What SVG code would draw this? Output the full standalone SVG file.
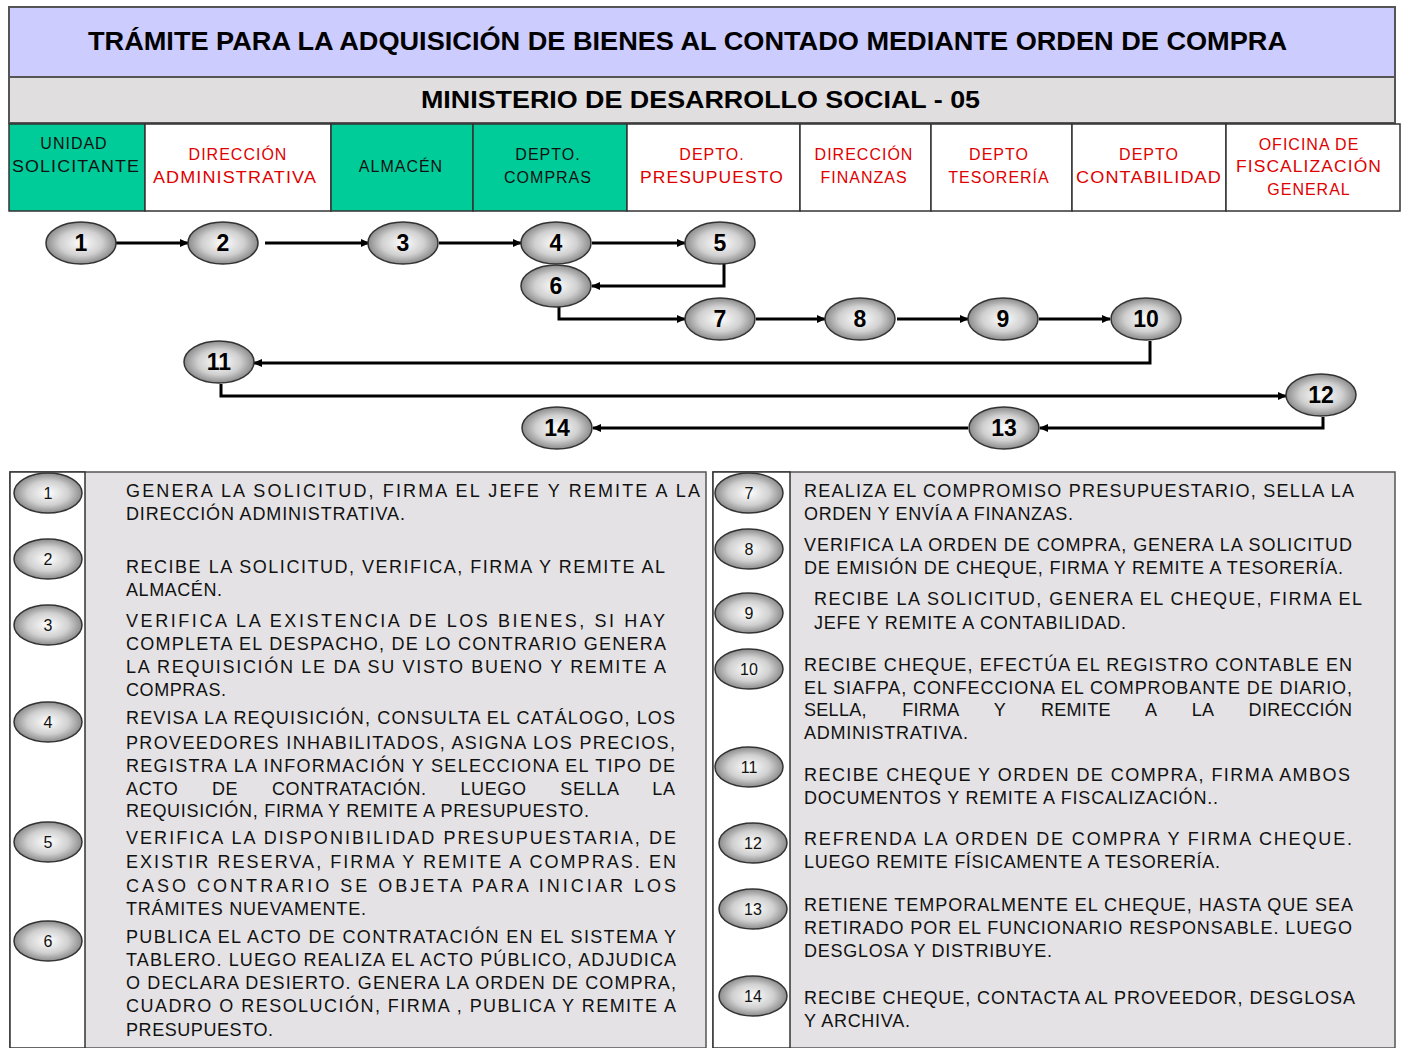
<svg xmlns="http://www.w3.org/2000/svg" width="1403" height="1048" viewBox="0 0 1403 1048">
<style>
.t{font-family:"Liberation Sans",Arial,sans-serif;font-size:18px;fill:#111}
.hd{font-family:"Liberation Sans",Arial,sans-serif;font-size:16px;text-anchor:middle;letter-spacing:1px}
.red{fill:#e00000}
.blk{fill:#111}
.nn{font-family:"Liberation Sans",Arial,sans-serif;font-size:23px;font-weight:bold;text-anchor:middle;fill:#000}
.sn{font-family:"Liberation Sans",Arial,sans-serif;font-size:16px;text-anchor:middle;fill:#111}
.node{fill:url(#g);stroke:#333;stroke-width:1.5}
.conn path{fill:none;stroke:#000;stroke-width:3;marker-end:url(#ah)}
.cell{stroke:#333;stroke-width:1.5}
</style>
<defs>
<radialGradient id="g" cx="50%" cy="50%" r="55%">
<stop offset="0" stop-color="#ffffff"/>
<stop offset="0.55" stop-color="#d0d0d0"/>
<stop offset="1" stop-color="#7a7a7a"/>
</radialGradient>
<marker id="ah" viewBox="0 0 10 10" refX="9" refY="5" markerWidth="9" markerHeight="9" markerUnits="userSpaceOnUse" orient="auto">
<path d="M0,0.5 L10,5 L0,9.5 Z" fill="#000"/>
</marker>
</defs>
<rect width="1403" height="1048" fill="#fff"/>

<g id="title">
<rect x="9" y="7" width="1386" height="70" fill="#ccccff" stroke="#555" stroke-width="2"/>
<text x="88" y="50" font-family="Liberation Sans,Arial,sans-serif" font-size="26" font-weight="bold" textLength="1199" lengthAdjust="spacingAndGlyphs">TRÁMITE PARA LA ADQUISICIÓN DE BIENES AL CONTADO MEDIANTE ORDEN DE COMPRA</text>
</g>
<g id="subtitle">
<rect x="9" y="77" width="1386" height="46" fill="#e0dede" stroke="#555" stroke-width="2"/>
<text x="421" y="108" font-family="Liberation Sans,Arial,sans-serif" font-size="24" font-weight="bold" textLength="559" lengthAdjust="spacingAndGlyphs">MINISTERIO DE DESARROLLO SOCIAL - 05</text>
</g>

<g id="lanes">
<g id="lane-unidad"><rect class="cell" x="9" y="124" width="136" height="87" fill="#00cc99"/>
<text class="hd blk" x="74" y="149">UNIDAD</text><text class="hd blk" x="76" y="172" textLength="128" lengthAdjust="spacingAndGlyphs">SOLICITANTE</text></g>
<g id="lane-diradm"><rect class="cell" x="145" y="124" width="186" height="87" fill="#fff"/>
<text class="hd red" x="238" y="160">DIRECCIÓN</text><text class="hd red" x="235" y="183" textLength="164" lengthAdjust="spacingAndGlyphs">ADMINISTRATIVA</text></g>
<g id="lane-almacen"><rect class="cell" x="331" y="124" width="142" height="87" fill="#00cc99"/>
<text class="hd blk" x="401" y="172">ALMACÉN</text></g>
<g id="lane-compras"><rect class="cell" x="473" y="124" width="154" height="87" fill="#00cc99"/>
<text class="hd blk" x="548" y="160">DEPTO.</text><text class="hd blk" x="548" y="183">COMPRAS</text></g>
<g id="lane-presupuesto"><rect class="cell" x="627" y="124" width="173" height="87" fill="#fff"/>
<text class="hd red" x="712" y="160">DEPTO.</text><text class="hd red" x="712" y="183" textLength="144" lengthAdjust="spacingAndGlyphs">PRESUPUESTO</text></g>
<g id="lane-finanzas"><rect class="cell" x="800" y="124" width="131" height="87" fill="#fff"/>
<text class="hd red" x="864" y="160">DIRECCIÓN</text><text class="hd red" x="864" y="183">FINANZAS</text></g>
<g id="lane-tesoreria"><rect class="cell" x="931" y="124" width="141" height="87" fill="#fff"/>
<text class="hd red" x="999" y="160">DEPTO</text><text class="hd red" x="999" y="183">TESORERÍA</text></g>
<g id="lane-contabilidad"><rect class="cell" x="1072" y="124" width="154" height="87" fill="#fff"/>
<text class="hd red" x="1149" y="160">DEPTO</text><text class="hd red" x="1149" y="183" textLength="146" lengthAdjust="spacingAndGlyphs">CONTABILIDAD</text></g>
<g id="lane-fiscalizacion"><rect class="cell" x="1226" y="124" width="174" height="87" fill="#fff"/>
<text class="hd red" x="1309" y="150">OFICINA DE</text><text class="hd red" x="1309" y="172" textLength="146" lengthAdjust="spacingAndGlyphs">FISCALIZACIÓN</text><text class="hd red" x="1309" y="195">GENERAL</text></g>
</g>

<g id="connectors" class="conn">
<path d="M116,243 H188"/>
<path d="M265,243 H369"/>
<path d="M439,243 H521"/>
<path d="M592,243 H685"/>
<path d="M724,264 V286 H592"/>
<path d="M559,307 V319 H685"/>
<path d="M756,319 H825"/>
<path d="M897,319 H968"/>
<path d="M1039,319 H1110"/>
<path d="M1150,341 V363 H254"/>
<path d="M221,384 V396 H1286"/>
<path d="M1323,417 V428 H1040"/>
<path d="M968,428 H593"/>
</g>

<g id="n1"><ellipse class="node" cx="81" cy="243" rx="35" ry="21"/><text class="nn" x="81" y="251">1</text></g>
<g id="n2"><ellipse class="node" cx="223" cy="243" rx="35" ry="21"/><text class="nn" x="223" y="251">2</text></g>
<g id="n3"><ellipse class="node" cx="403" cy="243" rx="35" ry="21"/><text class="nn" x="403" y="251">3</text></g>
<g id="n4"><ellipse class="node" cx="556" cy="243" rx="35" ry="21"/><text class="nn" x="556" y="251">4</text></g>
<g id="n5"><ellipse class="node" cx="720" cy="243" rx="35" ry="21"/><text class="nn" x="720" y="251">5</text></g>
<g id="n6"><ellipse class="node" cx="556" cy="286" rx="35" ry="21"/><text class="nn" x="556" y="294">6</text></g>
<g id="n7"><ellipse class="node" cx="720" cy="319" rx="35" ry="21"/><text class="nn" x="720" y="327">7</text></g>
<g id="n8"><ellipse class="node" cx="860" cy="319" rx="35" ry="21"/><text class="nn" x="860" y="327">8</text></g>
<g id="n9"><ellipse class="node" cx="1003" cy="319" rx="35" ry="21"/><text class="nn" x="1003" y="327">9</text></g>
<g id="n10"><ellipse class="node" cx="1146" cy="319" rx="35" ry="21"/><text class="nn" x="1146" y="327">10</text></g>
<g id="n11"><ellipse class="node" cx="219" cy="362" rx="35" ry="21"/><text class="nn" x="219" y="370">11</text></g>
<g id="n12"><ellipse class="node" cx="1321" cy="395" rx="35" ry="21"/><text class="nn" x="1321" y="403">12</text></g>
<g id="n13"><ellipse class="node" cx="1004" cy="428" rx="35" ry="21"/><text class="nn" x="1004" y="436">13</text></g>
<g id="n14"><ellipse class="node" cx="557" cy="428" rx="35" ry="21"/><text class="nn" x="557" y="436">14</text></g>

<g id="panel-left">
<rect x="10" y="472" width="696" height="576" fill="#e4e2e4" stroke="#555" stroke-width="1.5"/>
<rect x="10" y="472" width="75" height="576" fill="#fff" stroke="#333" stroke-width="1.5"/>
<g id="d1"><ellipse class="node" cx="48" cy="493" rx="34" ry="20"/><text class="sn" x="48" y="499">1</text>
<text class="t" x="126" y="497" textLength="574" lengthAdjust="spacing">GENERA LA SOLICITUD, FIRMA EL JEFE Y REMITE A LA</text>
<text class="t" x="126" y="520" textLength="279" lengthAdjust="spacing">DIRECCIÓN ADMINISTRATIVA.</text></g>
<g id="d2"><ellipse class="node" cx="48" cy="559" rx="34" ry="20"/><text class="sn" x="48" y="565">2</text>
<text class="t" x="126" y="573" textLength="539" lengthAdjust="spacing">RECIBE LA SOLICITUD, VERIFICA, FIRMA Y REMITE AL</text>
<text class="t" x="126" y="596" textLength="96" lengthAdjust="spacing">ALMACÉN.</text></g>
<g id="d3"><ellipse class="node" cx="48" cy="625" rx="34" ry="20"/><text class="sn" x="48" y="631">3</text>
<text class="t" x="126" y="627" textLength="539" lengthAdjust="spacing">VERIFICA LA EXISTENCIA DE LOS BIENES, SI HAY</text>
<text class="t" x="126" y="650" textLength="540" lengthAdjust="spacing">COMPLETA EL DESPACHO, DE LO CONTRARIO GENERA</text>
<text class="t" x="126" y="673" textLength="540" lengthAdjust="spacing">LA REQUISICIÓN LE DA SU VISTO BUENO Y REMITE A</text>
<text class="t" x="126" y="696" textLength="100" lengthAdjust="spacing">COMPRAS.</text></g>
<g id="d4"><ellipse class="node" cx="48" cy="722" rx="34" ry="20"/><text class="sn" x="48" y="728">4</text>
<text class="t" x="126" y="724" textLength="549" lengthAdjust="spacing">REVISA LA REQUISICIÓN, CONSULTA EL CATÁLOGO, LOS</text>
<text class="t" x="126" y="749" textLength="549" lengthAdjust="spacing">PROVEEDORES INHABILITADOS, ASIGNA LOS PRECIOS,</text>
<text class="t" x="126" y="772" textLength="549" lengthAdjust="spacing">REGISTRA LA INFORMACIÓN Y SELECCIONA EL TIPO DE</text>
<text class="t" x="126" y="795" textLength="549" lengthAdjust="spacing" word-spacing="28">ACTO DE CONTRATACIÓN. LUEGO SELLA LA</text>
<text class="t" x="126" y="817" textLength="463" lengthAdjust="spacing">REQUISICIÓN, FIRMA Y REMITE A PRESUPUESTO.</text></g>
<g id="d5"><ellipse class="node" cx="48" cy="842" rx="34" ry="20"/><text class="sn" x="48" y="848">5</text>
<text class="t" x="126" y="844" textLength="550" lengthAdjust="spacing">VERIFICA LA DISPONIBILIDAD PRESUPUESTARIA, DE</text>
<text class="t" x="126" y="868" textLength="550" lengthAdjust="spacing">EXISTIR RESERVA, FIRMA Y REMITE A COMPRAS. EN</text>
<text class="t" x="126" y="892" textLength="550" lengthAdjust="spacing">CASO CONTRARIO SE OBJETA PARA INICIAR LOS</text>
<text class="t" x="126" y="915" textLength="240" lengthAdjust="spacing">TRÁMITES NUEVAMENTE.</text></g>
<g id="d6"><ellipse class="node" cx="48" cy="941" rx="34" ry="20"/><text class="sn" x="48" y="947">6</text>
<text class="t" x="126" y="943" textLength="550" lengthAdjust="spacing">PUBLICA EL ACTO DE CONTRATACIÓN EN EL SISTEMA Y</text>
<text class="t" x="126" y="966" textLength="550" lengthAdjust="spacing">TABLERO. LUEGO REALIZA EL ACTO PÚBLICO, ADJUDICA</text>
<text class="t" x="126" y="989" textLength="550" lengthAdjust="spacing">O DECLARA DESIERTO. GENERA LA ORDEN DE COMPRA,</text>
<text class="t" x="126" y="1012" textLength="550" lengthAdjust="spacing">CUADRO O RESOLUCIÓN, FIRMA , PUBLICA Y REMITE A</text>
<text class="t" x="126" y="1036" textLength="147" lengthAdjust="spacing">PRESUPUESTO.</text></g>
</g>

<g id="panel-right">
<rect x="713" y="472" width="682" height="576" fill="#e4e2e4" stroke="#555" stroke-width="1.5"/>
<rect x="713" y="472" width="77" height="576" fill="#fff" stroke="#333" stroke-width="1.5"/>
<g id="d7"><ellipse class="node" cx="749" cy="493" rx="34" ry="20"/><text class="sn" x="749" y="499">7</text>
<text class="t" x="804" y="497" textLength="550" lengthAdjust="spacing">REALIZA EL COMPROMISO PRESUPUESTARIO, SELLA LA</text>
<text class="t" x="804" y="520" textLength="269" lengthAdjust="spacing">ORDEN Y ENVÍA A FINANZAS.</text></g>
<g id="d8"><ellipse class="node" cx="749" cy="549" rx="34" ry="20"/><text class="sn" x="749" y="555">8</text>
<text class="t" x="804" y="551" textLength="548" lengthAdjust="spacing">VERIFICA LA ORDEN DE COMPRA, GENERA LA SOLICITUD</text>
<text class="t" x="804" y="574" textLength="539" lengthAdjust="spacing">DE EMISIÓN DE CHEQUE, FIRMA Y REMITE A TESORERÍA.</text></g>
<g id="d9"><ellipse class="node" cx="749" cy="613" rx="34" ry="20"/><text class="sn" x="749" y="619">9</text>
<text class="t" x="814" y="605" textLength="548" lengthAdjust="spacing">RECIBE LA SOLICITUD, GENERA EL CHEQUE, FIRMA EL</text>
<text class="t" x="814" y="629" textLength="312" lengthAdjust="spacing">JEFE Y REMITE A CONTABILIDAD.</text></g>
<g id="d10"><ellipse class="node" cx="749" cy="669" rx="34" ry="20"/><text class="sn" x="749" y="675">10</text>
<text class="t" x="804" y="671" textLength="548" lengthAdjust="spacing">RECIBE CHEQUE, EFECTÚA EL REGISTRO CONTABLE EN</text>
<text class="t" x="804" y="694" textLength="548" lengthAdjust="spacing">EL SIAFPA, CONFECCIONA EL COMPROBANTE DE DIARIO,</text>
<text class="t" x="804" y="716" textLength="548" lengthAdjust="spacing" word-spacing="30">SELLA, FIRMA Y REMITE A LA DIRECCIÓN</text>
<text class="t" x="804" y="739" textLength="164" lengthAdjust="spacing">ADMINISTRATIVA.</text></g>
<g id="d11"><ellipse class="node" cx="749" cy="767" rx="34" ry="20"/><text class="sn" x="749" y="773">11</text>
<text class="t" x="804" y="781" textLength="546" lengthAdjust="spacing">RECIBE CHEQUE Y ORDEN DE COMPRA, FIRMA AMBOS</text>
<text class="t" x="804" y="804" textLength="414" lengthAdjust="spacing">DOCUMENTOS Y REMITE A FISCALIZACIÓN..</text></g>
<g id="d12"><ellipse class="node" cx="753" cy="843" rx="34" ry="20"/><text class="sn" x="753" y="849">12</text>
<text class="t" x="804" y="845" textLength="548" lengthAdjust="spacing">REFRENDA LA ORDEN DE COMPRA Y FIRMA CHEQUE.</text>
<text class="t" x="804" y="868" textLength="416" lengthAdjust="spacing">LUEGO REMITE FÍSICAMENTE A TESORERÍA.</text></g>
<g id="d13"><ellipse class="node" cx="753" cy="909" rx="34" ry="20"/><text class="sn" x="753" y="915">13</text>
<text class="t" x="804" y="911" textLength="549" lengthAdjust="spacing">RETIENE TEMPORALMENTE EL CHEQUE, HASTA QUE SEA</text>
<text class="t" x="804" y="934" textLength="548" lengthAdjust="spacing">RETIRADO POR EL FUNCIONARIO RESPONSABLE. LUEGO</text>
<text class="t" x="804" y="957" textLength="248" lengthAdjust="spacing">DESGLOSA Y DISTRIBUYE.</text></g>
<g id="d14"><ellipse class="node" cx="753" cy="996" rx="34" ry="20"/><text class="sn" x="753" y="1002">14</text>
<text class="t" x="804" y="1004" textLength="551" lengthAdjust="spacing">RECIBE CHEQUE, CONTACTA AL PROVEEDOR, DESGLOSA</text>
<text class="t" x="804" y="1027" textLength="106" lengthAdjust="spacing">Y ARCHIVA.</text></g>
</g>
</svg>
